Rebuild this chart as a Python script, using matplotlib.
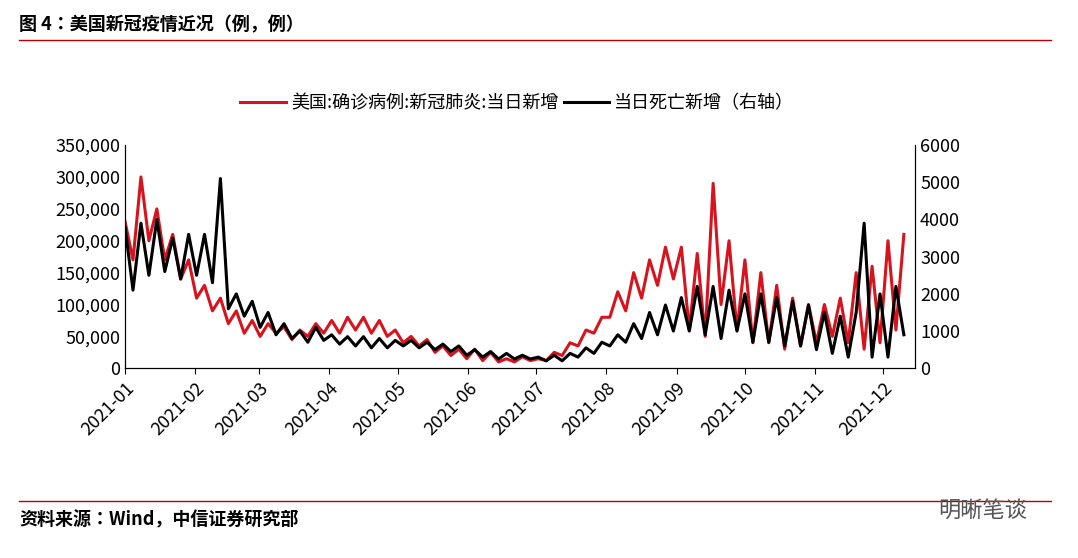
import matplotlib
matplotlib.use("Agg")
import matplotlib.pyplot as plt
import matplotlib.dates as mdates
from matplotlib import font_manager as fm
import pandas as pd

cjk = [f for f in fm.fontManager.ttflist if "CJK" in f.name]
names = sorted(set(f.name for f in cjk))
pick = next((n for n in names if n.endswith("SC")), names[0] if names else "DejaVu Sans")
plt.rcParams['font.family'] = [pick, 'DejaVu Sans']
plt.rcParams['font.sans-serif'] = [pick, 'DejaVu Sans']

start_date = "2021-01-01"
cases = [230,170,300,200,250,170,210,140,170,
         110,130,90,110,70,90,55,75,
         50,70,55,65,45,60,50,70,55,
         75,55,80,60,80,55,75,50,60,
         40,50,35,45,25,35,20,30,
         15,30,12,25,10,15,10,18,12,
         15,12,25,20,40,35,60,55,80,
         80,120,90,150,110,170,130,190,140,
         190,60,180,50,290,100,200,60,
         170,40,150,40,130,30,110,35,100,
         40,100,50,110,40,150,30,160,
         40,200,60,210]
cases = [c * 1000 for c in cases]
deaths = [3800,2100,3900,2500,4000,2600,3500,2400,3600,
          2500,3600,2300,5100,1600,2000,1400,1800,
          1100,1500,900,1200,800,1000,700,1100,750,
          900,650,850,600,850,550,800,550,750,
          600,750,550,700,500,650,450,600,
          350,500,300,450,250,400,250,350,250,
          300,200,350,200,400,300,550,400,700,
          600,900,700,1200,800,1500,900,1700,1000,
          1900,1000,2200,900,2200,800,2100,1000,
          2000,700,2000,700,1900,600,1800,600,1700,
          500,1500,400,1400,300,1500,3900,300,
          2000,300,2200,900]
dates = pd.date_range(start_date, periods=len(cases), freq="84h")

fig = plt.figure(figsize=(10.78, 5.58), dpi=100)
ax = fig.add_axes([0.116, 0.34, 0.733, 0.40])
ax2 = ax.twinx()
l1, = ax.plot(dates, cases, color="#d7141e", lw=2.2, label="美国:确诊病例:新冠肺炎:当日新增")
l2, = ax2.plot(dates, deaths, color="black", lw=2.2, label="当日死亡新增（右轴）")
ax.set_ylim(0, 350000)
ax2.set_ylim(0, 6000)
ax.set_yticks(range(0, 350001, 50000))
ax.set_yticklabels([f"{v:,}" for v in range(0, 350001, 50000)])
ax2.set_yticks(range(0, 6001, 1000))
ax.set_xlim(pd.Timestamp("2021-01-01"), pd.Timestamp("2021-12-15"))
ax.xaxis.set_major_locator(mdates.MonthLocator())
ax.xaxis.set_major_formatter(mdates.DateFormatter("%Y-%m"))
for a in (ax, ax2):
    a.tick_params(labelsize=13, length=0)
    a.spines["top"].set_visible(False)
for lab in ax.get_xticklabels():
    lab.set_rotation(45); lab.set_ha("right"); lab.set_rotation_mode("anchor")
ax.tick_params(axis="x", length=4, direction="out")
fig.legend(handles=[l1, l2], loc="center", bbox_to_anchor=(0.48, 0.815), ncol=2,
           frameon=False, fontsize=13, handlelength=2.5, columnspacing=0.3, handletextpad=0.3)

fig.text(0.018, 0.955, "图 4：美国新冠疫情近况（例，例）", fontsize=13, fontweight="bold", va="center")
fig.add_artist(plt.Line2D([0.018, 0.975], [0.928, 0.928], color="#c00000", lw=1))
fig.add_artist(plt.Line2D([0.018, 0.975], [0.103, 0.103], color="#c00000", lw=1))
fig.text(0.018, 0.068, "资料来源：Wind，中信证券研究部", fontsize=13, fontweight="bold", va="center")
fig.text(0.87, 0.085, "明晰笔谈", fontsize=16, color="#555555", va="center")
fig.savefig("out.png", dpi=100)
